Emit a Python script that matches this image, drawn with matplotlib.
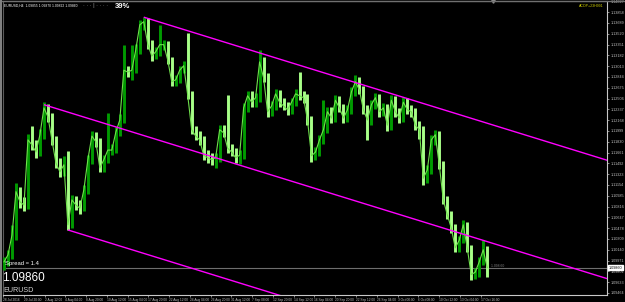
import numpy as np
import matplotlib
matplotlib.use("Agg")
import matplotlib.pyplot as plt

plt.rcParams["font.family"] = ["Liberation Sans", "DejaVu Sans"]

# ---------------- data ----------------
symbol = "EURUSD"
header = "EURUSD,H4  1.09855 1.09870 1.09822 1.09860"
bid = 1.09860
spread_text = "Spread = 1.4"
progress = "39%"
indicator_label = "ACOP+23H991"

closes = [1.0995, 1.1006, 1.1037, 1.1105, 1.1089, 1.1084, 1.1186, 1.1178, 1.1167, 1.1194,
          1.1236, 1.1222, 1.1186, 1.1150, 1.1136, 1.1147, 1.1053, 1.1092, 1.1084, 1.1079,
          1.1108, 1.1155, 1.1192, 1.1183, 1.1142, 1.1155, 1.1170, 1.1170, 1.1198, 1.1217,
          1.1295, 1.1292, 1.1295, 1.1327, 1.1366, 1.1371, 1.1336, 1.1317, 1.1324, 1.1335,
          1.1335, 1.1311, 1.1277, 1.1280, 1.1295, 1.1302, 1.1256, 1.1202, 1.1192, 1.1186,
          1.1162, 1.1158, 1.1155, 1.1158, 1.1202, 1.1197, 1.1173, 1.1167, 1.1158, 1.1162,
          1.1236, 1.1255, 1.1245, 1.1252, 1.1308, 1.1283, 1.1230, 1.1239, 1.1258, 1.1245,
          1.1239, 1.1233, 1.1245, 1.1258, 1.1255, 1.1252, 1.1217, 1.1161, 1.1167, 1.1186,
          1.1202, 1.1230, 1.1220, 1.1248, 1.1236, 1.1220, 1.1233, 1.1261, 1.1277, 1.1264,
          1.1233, 1.1217, 1.1241, 1.1252, 1.1230, 1.1236, 1.1209, 1.1248, 1.1230, 1.1220,
          1.1245, 1.1233, 1.1230, 1.1209, 1.1202, 1.1126, 1.1139, 1.1186, 1.1194, 1.1147,
          1.1092, 1.1069, 1.1048, 1.1017, 1.1029, 1.1053, 1.1017, 1.0975, 1.0979, 1.0995,
          1.1014, 1.0986]
highs = [1.1003, 1.1014, 1.1052, 1.1118, 1.1112, 1.1096, 1.1195, 1.1208, 1.1186, 1.1203,
         1.1246, 1.1242, 1.1228, 1.1192, 1.1157, 1.1160, 1.1168, 1.1100, 1.1098, 1.1092,
         1.1115, 1.1163, 1.1200, 1.1198, 1.1189, 1.1163, 1.1228, 1.1180, 1.1206, 1.1226,
         1.1334, 1.1302, 1.1334, 1.1336, 1.1374, 1.1378, 1.1376, 1.1342, 1.1331, 1.1366,
         1.1342, 1.1340, 1.1316, 1.1288, 1.1302, 1.1309, 1.1353, 1.1262, 1.1208, 1.1200,
         1.1192, 1.1170, 1.1165, 1.1166, 1.1210, 1.1209, 1.1256, 1.1180, 1.1174, 1.1170,
         1.1244, 1.1263, 1.1262, 1.1260, 1.1327, 1.1315, 1.1290, 1.1247, 1.1266, 1.1264,
         1.1252, 1.1246, 1.1252, 1.1266, 1.1292, 1.1262, 1.1258, 1.1223, 1.1175, 1.1194,
         1.1248, 1.1238, 1.1237, 1.1256, 1.1254, 1.1242, 1.1241, 1.1269, 1.1288, 1.1284,
         1.1270, 1.1240, 1.1249, 1.1260, 1.1258, 1.1244, 1.1242, 1.1256, 1.1254, 1.1236,
         1.1253, 1.1251, 1.1240, 1.1236, 1.1215, 1.1208, 1.1147, 1.1194, 1.1202, 1.1200,
         1.1153, 1.1098, 1.1075, 1.1054, 1.1036, 1.1060, 1.1058, 1.1022, 1.0986, 1.1002,
         1.1030, 1.1020]
lows = [1.0982, 1.0988, 1.0999, 1.1030, 1.1080, 1.1075, 1.1078, 1.1170, 1.1158, 1.1160,
        1.1188, 1.1214, 1.1178, 1.1142, 1.1128, 1.1130, 1.1045, 1.1048, 1.1076, 1.1070,
        1.1074, 1.1102, 1.1148, 1.1175, 1.1135, 1.1136, 1.1150, 1.1162, 1.1165, 1.1192,
        1.1212, 1.1284, 1.1280, 1.1290, 1.1320, 1.1358, 1.1328, 1.1310, 1.1312, 1.1318,
        1.1326, 1.1304, 1.1270, 1.1270, 1.1275, 1.1290, 1.1250, 1.1195, 1.1185, 1.1178,
        1.1155, 1.1150, 1.1146, 1.1142, 1.1152, 1.1190, 1.1166, 1.1160, 1.1150, 1.1148,
        1.1156, 1.1230, 1.1238, 1.1238, 1.1246, 1.1276, 1.1222, 1.1224, 1.1233, 1.1238,
        1.1232, 1.1225, 1.1227, 1.1239, 1.1248, 1.1244, 1.1210, 1.1152, 1.1155, 1.1160,
        1.1180, 1.1196, 1.1213, 1.1214, 1.1229, 1.1212, 1.1214, 1.1227, 1.1255, 1.1257,
        1.1226, 1.1185, 1.1210, 1.1235, 1.1222, 1.1224, 1.1200, 1.1202, 1.1222, 1.1212,
        1.1214, 1.1226, 1.1222, 1.1202, 1.1188, 1.1115, 1.1118, 1.1133, 1.1178, 1.1140,
        1.1085, 1.1062, 1.1040, 1.1010, 1.1010, 1.1024, 1.1010, 1.0966, 1.0968, 1.0972,
        1.0990, 1.0971]
first_open = 1.0990

# channel lines: start bar and start price, common slope (price per bar)
chan_start_bar = [35, 10, 16]
chan_start_price = [1.1378, 1.1241, 1.1045]
chan_slope = -0.000193

yticks = [1.09464, 1.09633, 1.09802, 1.09971, 1.10140, 1.10309, 1.10478, 1.10647,
          1.10816, 1.10985, 1.11154, 1.11323, 1.11492, 1.11661, 1.11830, 1.11999,
          1.12168, 1.12337, 1.12506, 1.12675, 1.12844, 1.13013, 1.13182, 1.13351,
          1.13520, 1.13689, 1.13858, 1.14027]
xtick_labels = ["28 Jul 2016", "29 Jul 20:00", "2 Aug 12:00", "4 Aug 04:00", "8 Aug 20:00",
                "10 Aug 12:00", "15 Aug 04:00", "17 Aug 20:00", "22 Aug 12:00", "24 Aug 04:00",
                "26 Aug 20:00", "31 Aug 12:00", "7 Sep 08:00", "12 Sep 20:00", "14 Sep 12:00",
                "16 Sep 04:00", "20 Sep 20:00", "22 Sep 12:00", "26 Sep 04:00", "3 Oct 00:00",
                "6 Oct 08:00", "10 Oct 12:00", "13 Oct 04:00", "17 Oct 16:00"]

# ---------------- figure ----------------
W, H = 625, 302
fig = plt.figure(figsize=(W / 100, H / 100), dpi=100, facecolor="black")
ax = fig.add_axes([3 / W, 1 - 295 / H, 604 / W, 294 / H], facecolor="black")

n = len(closes)
idx = np.arange(n)
opens = [first_open] + closes[:-1]
up_col, dn_col = "#009a00", "#a8ff88"
cols = [up_col if c >= o else dn_col for c, o in zip(closes, opens)]
ax.vlines(idx, lows, highs, colors=cols, linewidth=2.1, zorder=3)
ax.plot(idx, closes, color="#6fe04c", linewidth=0.8, zorder=4)

x_right = 151.5
for b, p in zip(chan_start_bar, chan_start_price):
    ax.plot([b, x_right], [p, p + chan_slope * (x_right - b)], color="#ff00ff",
            linewidth=1.0, zorder=5, solid_capstyle="butt")

ax.axhline(bid, color="#6e6e6e", linewidth=0.8, zorder=2)

ax.set_xlim(-0.25, x_right - 0.5)
ax.set_ylim(1.09432, 1.14033)

# ticks
ax.yaxis.tick_right()
ax.set_yticks(yticks)
ax.set_yticklabels([f"{v:.5f}" for v in yticks], fontsize=2.7, color="#d8d8d8")
step = 5.2
xt = [-0.25 + step * k for k in range(len(xtick_labels))]
ax.set_xticks(xt)
ax.set_xticklabels(xtick_labels, fontsize=2.3, color="#d8d8d8")
for lab in ax.get_xticklabels():
    lab.set_horizontalalignment("left")
ax.tick_params(axis="both", colors="#c0c0c0", length=1.5, width=0.5, pad=0.8)
for s in ["left", "top"]:
    ax.spines[s].set_color("#5a5a5a")
for s in ["right", "bottom"]:
    ax.spines[s].set_color("#c8c8c8")
    ax.spines[s].set_linewidth(0.8)

# price box on the right axis
ax.annotate(f"{bid:.5f}", xy=(1.0, bid), xycoords=("axes fraction", "data"),
            xytext=(1.5, 0), textcoords="offset points", fontsize=2.7, color="black",
            va="center", ha="left",
            bbox=dict(boxstyle="square,pad=0.2", fc="white", ec="white"), zorder=10,
            annotation_clip=False)

# texts
fig.text(4 / W, 1 - 6 / H, header, fontsize=2.4, color="white", va="center")
fig.text(83 / W, 1 - 6 / H, "\u00b7 \u00b7 \u00b7 | \u00b7 \u00b7 \u00b7 \u00b7",
         fontsize=4, color="#9a9a9a", va="center")
fig.text(115 / W, 1 - 6 / H, progress, fontsize=5.5, color="white", va="center",
         fontweight="bold")
fig.text(604 / W, 1 - 6 / H, indicator_label, fontsize=2.6, color="#d0d000",
         va="center", ha="right")
fig.text(5 / W, 1 - 264 / H, spread_text, fontsize=4.2, color="white", va="center")
fig.text(2 / W, 1 - 278 / H, f"{bid:.5f}", fontsize=8.5, color="white", va="center")
fig.text(3 / W, 1 - 290 / H, symbol, fontsize=5.2, color="#d0d0d0", va="center")
ax.text(122, bid, "1.098 60", fontsize=2.4, color="#808080", va="bottom", ha="left")

# frame line at top and chart-shift marker
fig.add_artist(plt.Line2D([0, 1], [1 - 0.5 / H, 1 - 0.5 / H], color="#707070",
                          linewidth=1.0, transform=fig.transFigure))
fig.add_artist(plt.Line2D([0.5 / W, 0.5 / W], [0, 1], color="#808080",
                          linewidth=1.5, transform=fig.transFigure))
ax.plot([122.5], [1.14033], marker="v", markersize=2.5, color="#909090",
        clip_on=False, zorder=10)

fig.savefig("out.png", dpi=100, facecolor="black")
